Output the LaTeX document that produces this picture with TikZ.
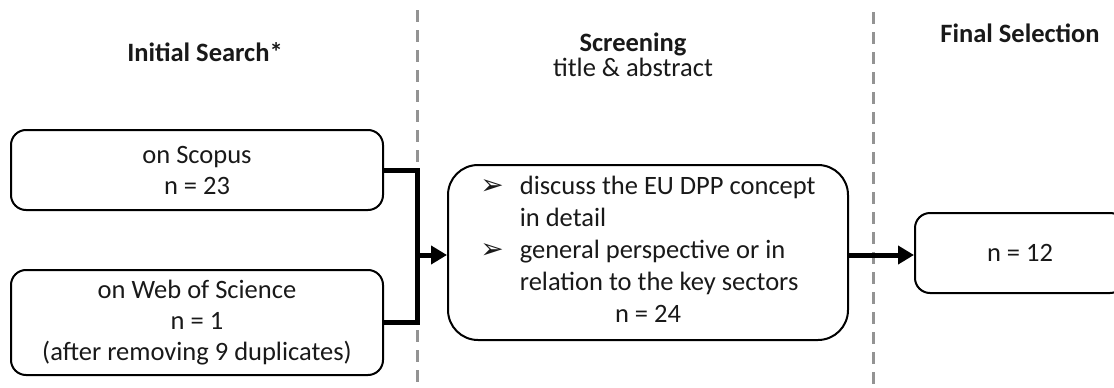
\documentclass[tikz,border=0pt]{standalone}
\usepackage{fontspec}
\setmainfont{Carlito}
\newfontfamily\symfont{DejaVu Sans}
\usetikzlibrary{arrows.meta}
\begin{document}
\begin{tikzpicture}[x=1pt,y=-1pt,
  every node/.style={font=\fontsize{26.5}{32}\selectfont, text=black!90, inner sep=0pt},
  tight/.style={font=\fontsize{26.5}{31}\selectfont},
  box/.style={draw=black, line width=2pt, rounded corners=15pt, align=center},
  title/.style={font=\fontsize{26.5}{28}\selectfont\bfseries, align=center},
  divider/.style={draw=gray!85, line width=3pt, dash pattern=on 12pt off 8pt},
  flow/.style={draw=black, line width=5pt, line join=miter},
  flowarrow/.style={flow, -{Triangle[length=16pt,width=18pt]}}
]
\useasboundingbox (0,0) rectangle (1114,388);

% phase dividers
\coordinate (d1top) at (417,10);
\coordinate (d1bot) at (417,388);
\coordinate (d2top) at (873,12);
\coordinate (d2bot) at (873,388);
\draw[divider] (d1top) -- (d1bot);
\draw[divider] (d2top) -- (d2bot);

% phase headings
\node[title] (h1) at (205,52) {Initial Search*};
\node[title] (h2) at (633,44) {Screening};
\node (h2sub) at (633,67) {title \& abstract};
\node[title] (h3) at (1020,33) {Final Selection};

% records
\node[box, tight, minimum width=372pt, minimum height=80pt] (scopus) at (197,170)
  {on Scopus\\n = 23};
\node[box, tight, minimum width=372pt, minimum height=105pt] (wos) at (197,322.5)
  {on Web of Science\\n = 1\\(after removing 9 duplicates)};

\node[box, rounded corners=30pt, minimum width=400pt, minimum height=175pt] (screen) at (648,252.5)
  {\begin{tabular}{@{}l@{\hspace{16pt}}l@{}}
   {\symfont\fontsize{28}{32}\selectfont ➢} & discuss the EU DPP concept\\
   & in detail\\
   {\symfont\fontsize{28}{32}\selectfont ➢} & general perspective or in\\
   & relation to the key sectors\\
   \multicolumn{2}{c}{n = 24}
   \end{tabular}};

\node[box, minimum width=210pt, minimum height=80pt] (final) at (1020,253) {n = 12};

% connectors
\coordinate (jn) at (417,255);
\draw[flow] (scopus.east) -| (jn);
\draw[flow] (wos.east) -| (jn);
\draw[flowarrow] (jn) -- (screen.west |- jn);
\draw[flowarrow] (screen.east |- jn) -- (final.west |- jn);
\end{tikzpicture}
\end{document}
